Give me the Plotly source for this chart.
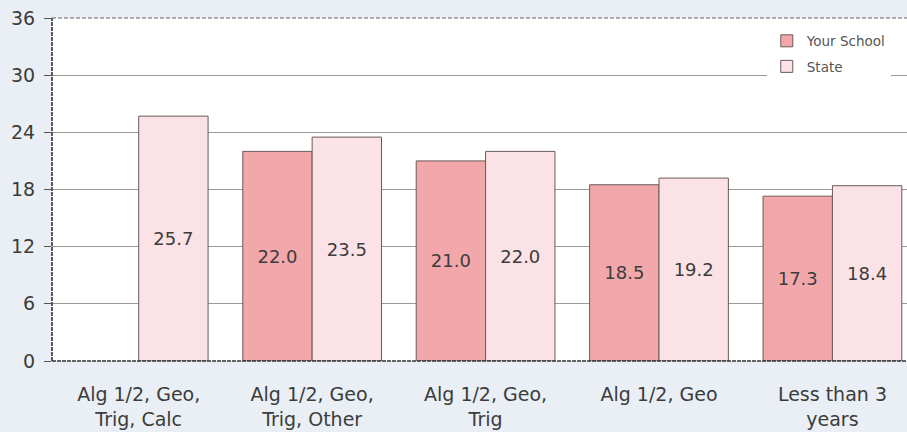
import plotly.graph_objects as go

categories = ["Alg 1/2, Geo,<br>Trig, Calc", "Alg 1/2, Geo,<br>Trig, Other", "Alg 1/2, Geo,<br>Trig",
              "Alg 1/2, Geo", "Less than 3<br>years"]
school = [None, 22.0, 21.0, 18.5, 17.3]
state = [25.7, 23.5, 22.0, 19.2, 18.4]
y_ticks = [0, 6, 12, 18, 24, 30, 36]

FONT = "DejaVu Sans"
TXT = "#3c3c3c"

fig = go.Figure()
fig.add_trace(go.Bar(
    name="Your School", x=categories, y=school, legendgroup="a",
    marker=dict(color="#f2a8aa", line=dict(color="#6a5a5a", width=1)),
    text=[None if v is None else f"{v:.1f}" for v in school],
    textposition="inside", insidetextanchor="middle",
    textfont=dict(size=18, color=TXT, family=FONT),
))
fig.add_trace(go.Bar(
    name="State", x=categories, y=state, legendgroup="b",
    marker=dict(color="#fbe2e6", line=dict(color="#6a5a5a", width=1)),
    text=[f"{v:.1f}" for v in state],
    textposition="inside", insidetextanchor="middle",
    textfont=dict(size=18, color=TXT, family=FONT),
))

fig.update_layout(
    width=907, height=432,
    margin=dict(l=52, r=0, t=18, b=71),
    paper_bgcolor="#e9eff5",
    plot_bgcolor="#ffffff",
    barmode="group", bargap=0.2, bargroupgap=0,
    font=dict(family=FONT, color=TXT),
    showlegend=True,
    legend=dict(x=0.836, y=0.978, xanchor="left", yanchor="top",
                bgcolor="#ffffff", font=dict(size=13.5, color="#555555", family=FONT),
                itemwidth=30, traceorder="grouped", tracegroupgap=5),
    xaxis=dict(range=[-0.5, 4.43], tickfont=dict(size=19, color=TXT),
               showline=False, ticks="", showgrid=False, ticklabelstandoff=20),
    yaxis=dict(range=[0, 36], tickvals=y_ticks, tickfont=dict(size=19, color=TXT),
               showline=False,
               ticks="outside", ticklen=7, tickcolor="#555555", ticklabelstandoff=5,
               showgrid=True, gridcolor="#9a9a9a", gridwidth=1, zeroline=False),
)
# frame lines: top (light dashed), left and bottom (dark dashed)
fig.add_shape(type="line", xref="paper", yref="paper", x0=0, x1=1, y0=1, y1=1,
              line=dict(color="#666666", width=1, dash="4px,2px"))
fig.add_shape(type="line", xref="paper", yref="paper", x0=0, x1=0, y0=0, y1=1,
              line=dict(color="#333333", width=1.6, dash="4px,1px"))
fig.add_shape(type="line", xref="paper", yref="paper", x0=0, x1=1, y0=0, y1=0,
              line=dict(color="#333333", width=1.6, dash="4px,1px"))

fig.write_html("out.html")
